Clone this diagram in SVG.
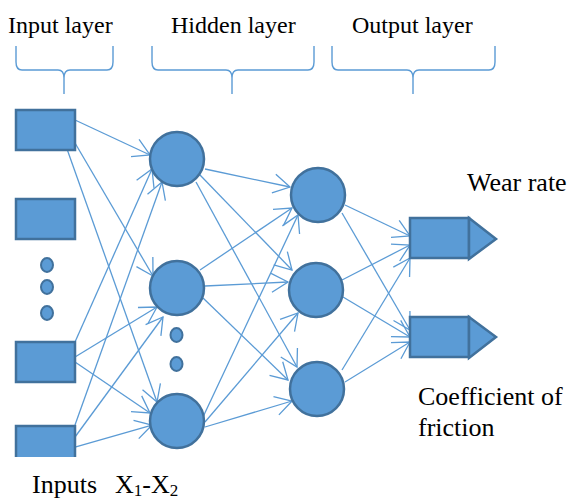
<svg xmlns="http://www.w3.org/2000/svg" width="571" height="499" viewBox="0 0 571 499">
<style>
.node{fill:#5b9bd5;stroke:#41719c;stroke-width:2.5}
.dot{fill:#5b9bd5;stroke:#41719c;stroke-width:2}
.brace{fill:none;stroke:#5b9bd5;stroke-width:1.4}
.conn line{stroke:#5b9bd5;stroke-width:1.3;marker-end:url(#arr)}
.lbl text{fill:#000}
.t24{font-size:24px}
.t26{font-size:26px}
</style>
<defs>
<marker id="arr" markerUnits="userSpaceOnUse" markerWidth="22" markerHeight="22" viewBox="-20 -11 22 22" refX="0" refY="0" orient="auto">
<path d="M-16.5,-9.5 L0,0 L-16.5,9.5" fill="none" stroke="#5b9bd5" stroke-width="1.3"/>
</marker>
<clipPath id="cut"><rect x="0" y="0" width="571" height="457"/></clipPath>
</defs>
<rect width="571" height="499" fill="#fff"/>

<g id="labels" class="lbl" font-family="'Liberation Serif', 'DejaVu Serif', 'Times New Roman', serif">
<text class="t24" x="8" y="33">Input layer</text>
<text class="t24" x="171" y="33">Hidden layer</text>
<text class="t24" x="352" y="33">Output layer</text>
<text class="t26" x="467" y="191">Wear rate</text>
<text class="t26" x="418" y="405">Coefficient of</text>
<text class="t26" x="418" y="436">friction</text>
<text class="t26" x="32" y="493">Inputs</text>
<text class="t26" x="115" y="493">X<tspan font-size="17" dy="3">1</tspan><tspan dy="-3">-X</tspan><tspan font-size="17" dy="3">2</tspan></text>
</g>

<g id="braces">
<path class="brace" d="M16,46 V62 Q16,70 22,70 H58 Q64,70 64,78 V94 M64,78 Q64,70 70,70 H107 Q113,70 113,62 V46"/>
<path class="brace" d="M152,46 V62 Q152,70 158,70 H226 Q232,70 232,78 V94 M232,78 Q232,70 238,70 H308 Q314,70 314,62 V46"/>
<path class="brace" d="M332,46 V62 Q332,70 338,70 H407 Q413,70 413,78 V94 M413,78 Q413,70 419,70 H489 Q495,70 495,62 V46"/>
</g>

<g id="connectors" class="conn">
<line x1="75" y1="120" x2="150" y2="155"/>
<line x1="75" y1="143" x2="153" y2="276"/>
<line x1="67" y1="149" x2="157" y2="402"/>
<line x1="75" y1="342" x2="152" y2="169"/>
<line x1="75" y1="357" x2="157" y2="307"/>
<line x1="75" y1="362" x2="150" y2="413"/>
<line x1="75" y1="425" x2="162" y2="182"/>
<line x1="75" y1="437" x2="163" y2="317"/>
<line x1="75" y1="447" x2="152" y2="425"/>

<line x1="205" y1="169" x2="290" y2="187"/>
<line x1="200" y1="175" x2="292" y2="270"/>
<line x1="196" y1="182" x2="297" y2="367"/>
<line x1="200" y1="270" x2="292" y2="208"/>
<line x1="205" y1="286" x2="288" y2="282"/>
<line x1="203" y1="298" x2="288" y2="380"/>
<line x1="203" y1="417" x2="298" y2="215"/>
<line x1="205" y1="422" x2="298" y2="313"/>
<line x1="205" y1="427" x2="292" y2="401"/>

<line x1="345" y1="205" x2="410" y2="236"/>
<line x1="342" y1="213" x2="410" y2="330"/>
<line x1="342" y1="280" x2="410" y2="245"/>
<line x1="343" y1="297" x2="410" y2="337"/>
<line x1="342" y1="370" x2="410" y2="258"/>
<line x1="345" y1="382" x2="410" y2="342"/>
</g>

<g id="in1"><rect class="node" x="16" y="110" width="59" height="40"/></g>
<g id="in2"><rect class="node" x="16" y="199" width="59" height="40"/></g>
<g id="in-dots">
<ellipse class="dot" cx="47" cy="265" rx="6" ry="7"/>
<ellipse class="dot" cx="47" cy="287" rx="6" ry="7"/>
<ellipse class="dot" cx="47" cy="313" rx="6" ry="7"/>
</g>
<g id="in3"><rect class="node" x="16" y="342" width="59" height="40"/></g>
<g id="in4"><rect class="node" x="16" y="426" width="59" height="40" clip-path="url(#cut)"/></g>

<g id="h1a"><circle class="node" cx="177" cy="159" r="27"/></g>
<g id="h1b"><circle class="node" cx="177" cy="288" r="27"/></g>
<g id="h1-dots">
<ellipse class="dot" cx="176.5" cy="335" rx="6" ry="7"/>
<ellipse class="dot" cx="176.5" cy="364" rx="6" ry="7"/>
</g>
<g id="h1c"><circle class="node" cx="177" cy="421" r="27"/></g>

<g id="h2a"><circle class="node" cx="318" cy="195" r="27"/></g>
<g id="h2b"><circle class="node" cx="316" cy="290" r="27"/></g>
<g id="h2c"><circle class="node" cx="317" cy="389" r="27"/></g>

<g id="out1">
<rect class="node" x="410" y="218" width="59" height="40"/>
<polygon class="node" points="469,218 496,239 469,259"/>
</g>
<g id="out2">
<rect class="node" x="410" y="317" width="59" height="40"/>
<polygon class="node" points="469,317 496,337 469,358"/>
</g>
</svg>
